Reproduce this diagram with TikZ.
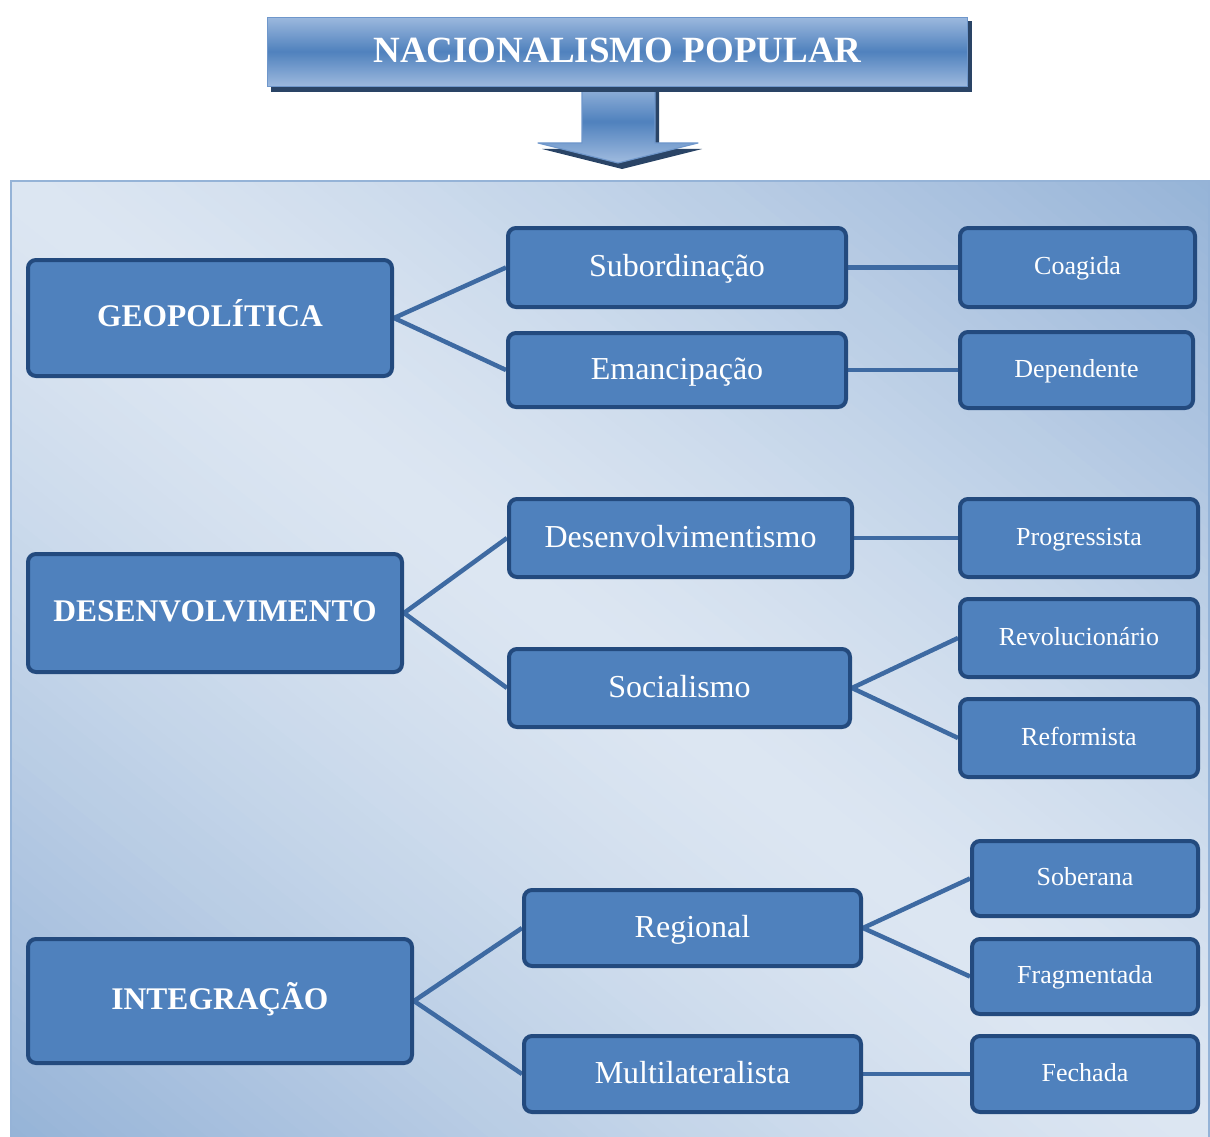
\documentclass[tikz,border=0pt]{standalone}
\usepackage{fontspec}
\setmainfont{Liberation Serif}
\definecolor{boxfill}{HTML}{4F81BD}
\definecolor{boxline}{HTML}{234A7E}
\definecolor{connline}{HTML}{3E6AA2}
\definecolor{panellight}{HTML}{DCE6F2}
\definecolor{paneldark}{HTML}{95B3D7}
\definecolor{titlelight}{HTML}{9DB9DE}
\definecolor{titledark}{HTML}{4F81BD}
\definecolor{titleedge}{HTML}{6F97CB}
\definecolor{shadowcol}{HTML}{2A4466}
\pgfdeclarelayer{bg}
\pgfdeclarelayer{lines}
\pgfsetlayers{bg,lines,main}
\begin{document}
\begin{tikzpicture}[x=1pt,y=-1pt,
  box/.style={draw=boxline, line width=4pt, fill=boxfill, rounded corners=8pt,
    text=white, inner sep=0pt, align=center},
  levelone/.style={box, font=\fontsize{31.5}{36}\selectfont\bfseries,
    text height=22pt, text depth=4.4pt},
  leveltwo/.style={box, font=\fontsize{32}{36}\selectfont,
    text height=22pt, text depth=3.4pt},
  levelthree/.style={box, font=\fontsize{26}{30}\selectfont,
    text height=18pt, text depth=4pt},
  conn/.style={draw=connline, line width=4.5pt},
  titlebox/.style={draw=titleedge, line width=1.5pt, text=white, inner sep=0pt,
    text height=25pt, text depth=3pt, font=\fontsize{37}{40}\selectfont\bfseries}]
\useasboundingbox (0,0) rectangle (1210,1137);

% background panel: diagonal band gradient, light along the main diagonal
\begin{pgfonlayer}{bg}
  \begin{scope}
    \clip (10,180) rectangle (1210,1137);
    \foreach \k in {-62,...,61} {
      \pgfmathsetmacro\sa{\k*12.5}
      \pgfmathsetmacro\sb{\sa+13.5}
      \pgfmathsetmacro\t{min(1,abs(\sa+6.25)/748)}
      \pgfmathtruncatemacro\p{100*\t^1.3}
      \fill[paneldark!\p!panellight]
        ({610+(\sa)*0.6235-900*0.7818},{658.5-(\sa)*0.7818-900*0.6235}) --
        ({610+(\sa)*0.6235+900*0.7818},{658.5-(\sa)*0.7818+900*0.6235}) --
        ({610+(\sb)*0.6235+900*0.7818},{658.5-(\sb)*0.7818+900*0.6235}) --
        ({610+(\sb)*0.6235-900*0.7818},{658.5-(\sb)*0.7818-900*0.6235}) -- cycle;
    }
  \end{scope}
  \draw[paneldark, line width=2pt] (11,1137) -- (11,181) -- (1209,181) -- (1209,1137);
\end{pgfonlayer}

% downward arrow under the title banner
\coordinate (arrowleft) at (538,143);
\coordinate (arrowtip) at (618,163);
\coordinate (arrowright) at (698,143);
\fill[shadowcol] ([shift={(4,6)}]582,86) -- ([shift={(4,6)}]655,86) -- ([shift={(4,6)}]655,143)
  -- ([shift={(4,6)}]arrowright) -- ([shift={(4,6)}]arrowtip) -- ([shift={(4,6)}]arrowleft)
  -- ([shift={(4,6)}]582,143) -- cycle;
\begin{scope}
  \clip (582,86) -- (655,86) -- (655,143) -- (arrowright) -- (arrowtip) -- (arrowleft) -- (582,143) -- cycle;
  \foreach \k in {0,...,79} {
    \pgfmathsetmacro\ya{86+\k}
    \pgfmathtruncatemacro\p{100*max(0,1-abs(\ya+0.5-122)/40)}
    \fill[titledark!\p!titlelight] (530,\ya) rectangle (710,\ya+1.4);
  }
\end{scope}
\draw[titleedge, line width=1.2pt, line join=round]
  (582,86) -- (582,143) -- (arrowleft) -- (arrowtip) -- (arrowright) -- (655,143) -- (655,86);

% title banner: shadow, vertical gradient, then the named node on top
\fill[shadowcol] (271,21) rectangle (972,92);
\begin{scope}
  \clip (267,17) rectangle (968,87);
  \foreach \k in {0,...,69} {
    \pgfmathsetmacro\ya{17+\k}
    \pgfmathtruncatemacro\p{100*max(0,1-abs(\ya+0.5-52)/35)}
    \fill[titledark!\p!titlelight] (267,\ya) rectangle (968,\ya+1.4);
  }
\end{scope}
\node[titlebox, minimum width=700pt, minimum height=69pt] (title) at (617.5,52) {NACIONALISMO POPULAR};

% first level
\node[levelone, minimum width=364pt, minimum height=116pt] (geo) at (210,318) {GEOPOLÍTICA};
\node[levelone, minimum width=374pt, minimum height=118pt] (des) at (215,613) {DESENVOLVIMENTO};
\node[levelone, minimum width=384pt, minimum height=124pt] (int) at (220,1001) {INTEGRAÇÃO};

% second level
\node[leveltwo, minimum width=338pt, minimum height=79pt] (sub) at (677,267.5) {Subordinação};
\node[leveltwo, minimum width=338pt, minimum height=74pt] (ema) at (677,370) {Emancipação};
\node[leveltwo, minimum width=343pt, minimum height=78pt] (dvm) at (680.5,538) {Desenvolvimentismo};
\node[leveltwo, minimum width=341pt, minimum height=78pt] (soc) at (679.5,688) {Socialismo};
\node[leveltwo, minimum width=337pt, minimum height=76pt] (reg) at (692.5,928) {Regional};
\node[leveltwo, minimum width=337pt, minimum height=76pt] (mul) at (692.5,1074) {Multilateralista};

% third level
\node[levelthree, minimum width=235pt, minimum height=79pt] (coa) at (1077.5,267.5) {Coagida};
\node[levelthree, minimum width=233pt, minimum height=76pt] (dep) at (1076.5,370) {Dependente};
\node[levelthree, minimum width=238pt, minimum height=78pt] (pro) at (1079,538) {Progressista};
\node[levelthree, minimum width=238pt, minimum height=78pt] (rev) at (1079,638) {Revolucionário};
\node[levelthree, minimum width=238pt, minimum height=78pt] (ref) at (1079,738) {Reformista};
\node[levelthree, minimum width=226pt, minimum height=75pt] (sob) at (1085,878.5) {Soberana};
\node[levelthree, minimum width=226pt, minimum height=75pt] (fra) at (1085,976.5) {Fragmentada};
\node[levelthree, minimum width=226pt, minimum height=76pt] (fec) at (1085,1074) {Fechada};

% connectors
\begin{pgfonlayer}{lines}
  \draw[conn] (geo.east) -- (sub.west);
  \draw[conn] (geo.east) -- (ema.west);
  \draw[conn] (sub.east) -- (coa.west);
  \draw[conn] (ema.east) -- (dep.west);
  \draw[conn] (des.east) -- (dvm.west);
  \draw[conn] (des.east) -- (soc.west);
  \draw[conn] (dvm.east) -- (pro.west);
  \draw[conn] (soc.east) -- (rev.west);
  \draw[conn] (soc.east) -- (ref.west);
  \draw[conn] (int.east) -- (reg.west);
  \draw[conn] (int.east) -- (mul.west);
  \draw[conn] (reg.east) -- (sob.west);
  \draw[conn] (reg.east) -- (fra.west);
  \draw[conn] (mul.east) -- (fec.west);
\end{pgfonlayer}
\end{tikzpicture}
\end{document}
